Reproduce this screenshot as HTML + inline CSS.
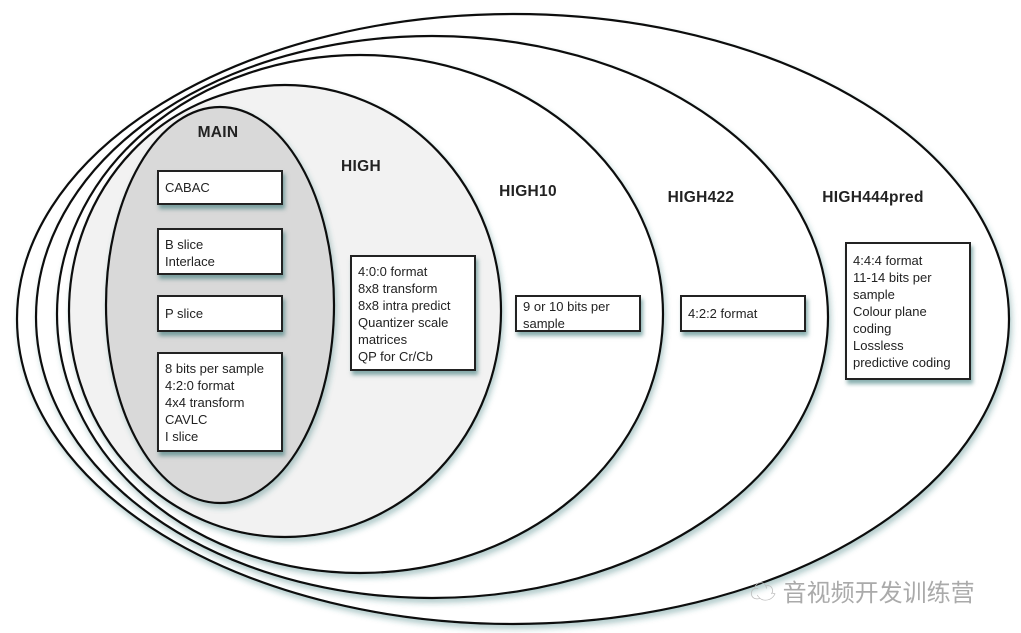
<!DOCTYPE html>
<html><head><meta charset="utf-8"><style>
html,body{margin:0;padding:0;background:#fff;}
body{width:1021px;height:633px;overflow:hidden;position:relative;font-family:"Liberation Sans",sans-serif;}
svg{position:absolute;left:0;top:0;}
.b{position:absolute;background:#fff;border:2px solid #222;box-sizing:border-box;font-size:13px;line-height:17px;color:#222;padding:3px 6px;box-shadow:2px 4px 4px rgba(40,110,110,0.55);}
.l{position:absolute;font-weight:bold;font-size:15.5px;color:#222;transform:translateX(-50%);white-space:nowrap;letter-spacing:0.3px;}
.wm{position:absolute;left:750px;top:572px;font-family:"Liberation Sans","Noto Sans CJK SC",sans-serif;font-size:24px;color:#aaa;}
</style></head><body>
<svg width="1021" height="633">
<defs><filter id="s" x="-10%" y="-10%" width="120%" height="120%"><feDropShadow dx="2" dy="4" stdDeviation="3" flood-color="#2a6e6e" flood-opacity="0.35"/></filter></defs>
<ellipse cx="513" cy="319" rx="496" ry="305" fill="#fff" stroke="#111" stroke-width="2.2" filter="url(#s)"/>
<ellipse cx="432" cy="317" rx="396" ry="281" fill="#fff" stroke="#111" stroke-width="2.2" filter="url(#s)"/>
<ellipse cx="360" cy="314" rx="303" ry="259" fill="#fff" stroke="#111" stroke-width="2.2" filter="url(#s)"/>
<ellipse cx="285" cy="311" rx="216" ry="226" fill="#f2f2f2" stroke="#111" stroke-width="2.2" filter="url(#s)"/>
<ellipse cx="220" cy="305" rx="114" ry="198" fill="#d9d9d9" stroke="#111" stroke-width="2.2" filter="url(#s)"/>
</svg>
<div class="l" style="left:218px;top:124px">MAIN</div>
<div class="l" style="left:361px;top:158px">HIGH</div>
<div class="l" style="left:528px;top:183px">HIGH10</div>
<div class="l" style="left:701px;top:189px">HIGH422</div>
<div class="l" style="left:873px;top:189px">HIGH444pred</div>
<div class="b" style="left:157px;top:170px;width:126px;height:35px;padding-top:7px">CABAC</div>
<div class="b" style="left:157px;top:228px;width:126px;height:47px;padding-top:6px">B slice<br>Interlace</div>
<div class="b" style="left:157px;top:295px;width:126px;height:37px;padding-top:8px">P slice</div>
<div class="b" style="left:157px;top:352px;width:126px;height:100px;padding-top:6px">8 bits per sample<br>4:2:0 format<br>4x4 transform<br>CAVLC<br>I slice</div>
<div class="b" style="left:350px;top:255px;width:126px;height:116px;padding-top:6px">4:0:0 format<br>8x8 transform<br>8x8 intra predict<br>Quantizer scale<br>matrices<br>QP for Cr/Cb</div>
<div class="b" style="left:515px;top:295px;width:126px;height:37px;padding-top:1px">9 or 10 bits per<br>sample</div>
<div class="b" style="left:680px;top:295px;width:126px;height:37px;padding-top:8px">4:2:2 format</div>
<div class="b" style="left:845px;top:242px;width:126px;height:138px;padding-top:8px">4:4:4 format<br>11-14 bits per<br>sample<br>Colour plane<br>coding<br>Lossless<br>predictive coding</div>
<div class="wm"><span style="font-size:26px;color:#bbb">☁</span> 音视频开发训练营</div>
</body></html>
